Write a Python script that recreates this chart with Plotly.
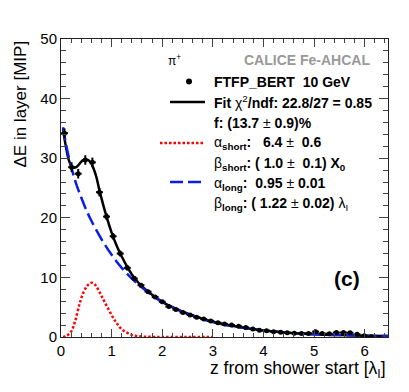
import plotly.graph_objects as go

# measured points (shower profile, FTFP_BERT 10 GeV pi+)
z_data = [0.07, 0.21, 0.34, 0.48, 0.62, 0.76, 0.90, 1.03, 1.17, 1.31, 1.45, 1.58, 1.72, 1.86,
          2.00, 2.13, 2.27, 2.41, 2.55, 2.68, 2.82, 2.96, 3.10, 3.23, 3.37, 3.51, 3.65, 3.79,
          3.92, 4.06, 4.20, 4.34, 4.47, 4.61, 4.75, 4.89, 5.03, 5.16, 5.30, 5.44, 5.58, 5.71,
          5.85, 5.99, 6.13]
e_data = [34.2, 28.5, 27.4, 29.7, 29.3, 24.3, 20.2, 16.9, 14.0, 11.6, 9.8, 8.7, 7.6, 6.7,
          5.9, 5.1, 4.6, 4.1, 3.7, 3.3, 3.0, 2.7, 2.4, 2.2, 2.0, 1.8, 1.6, 1.35,
          1.15, 1.05, 0.9, 0.8, 0.7, 0.65, 0.6, 0.6, 0.9, 0.6, 0.55, 0.75, 0.75, 0.7,
          0.45, 0.2, 0.05]
e_err = [0.8, 0.8, 0.8, 0.8, 0.8, 0.7, 0.6, 0.55, 0.5, 0.45, 0.4, 0.35, 0.3, 0.3,
         0.3, 0.25, 0.25, 0.25, 0.2, 0.2, 0.2, 0.2, 0.2, 0.2, 0.2, 0.15, 0.15, 0.15,
         0.15, 0.15, 0.15, 0.15, 0.15, 0.15, 0.15, 0.15, 0.15, 0.15, 0.15, 0.15, 0.15, 0.15,
         0.15, 0.15, 0.15]
half_bin = 0.068

# total fit
z_fit = [0.04, 0.1, 0.15, 0.2, 0.25, 0.3, 0.35, 0.4, 0.45, 0.5, 0.55, 0.6, 0.65, 0.7, 0.76,
         0.83, 0.9, 1.0, 1.1, 1.2, 1.3, 1.4, 1.5, 1.6, 1.8, 2.0, 2.25, 2.5, 2.75, 3.0, 3.5,
         4.0, 4.5, 5.0, 5.5, 6.0, 6.46]
e_fit = [34.8, 31.8, 29.8, 28.8, 28.4, 28.5, 28.9, 29.4, 29.7, 29.8, 29.6, 29.1, 28.1, 26.8, 24.6,
         22.3, 20.2, 17.5, 15.3, 13.5, 11.9, 10.5, 9.4, 8.5, 7.1, 5.9, 4.8, 3.9, 3.2, 2.55, 1.7,
         1.1, 0.73, 0.48, 0.32, 0.21, 0.15]

# long component
z_long = [0.04, 0.1, 0.2, 0.3, 0.4, 0.5, 0.6, 0.8, 1.0, 1.2, 1.4, 1.6, 1.8, 2.0, 2.5, 3.0,
          3.5, 4.0, 4.5, 5.0, 5.5, 6.0, 6.46]
e_long = [35.2, 32.3, 28.6, 25.7, 23.4, 21.3, 19.5, 16.4, 13.8, 11.6, 9.8, 8.3, 7.0, 5.9, 3.9, 2.5,
          1.67, 1.1, 0.73, 0.48, 0.32, 0.21, 0.15]

# short component
z_short = [0.04, 0.1, 0.2, 0.28, 0.375, 0.45, 0.51, 0.56, 0.61, 0.66, 0.705, 0.8, 0.935, 1.07,
           1.2, 1.4, 1.6, 1.8, 2.0, 2.5, 3.0]
e_short = [0.0, 0.15, 0.9, 2.7, 5.8, 7.6, 8.5, 8.95, 9.1, 8.9, 8.4, 6.9, 4.7, 2.7,
           1.3, 0.35, 0.08, 0.02, 0.0, 0.0, 0.0]

FONT = "Liberation Sans"
# plot frame in window pixels; the page body adds an 8px margin
L, R, T, B = 61, 388, 39, 337
W, H = 409, 392
OFF = 8


def xp(px):
    return (px - L) / (R - L)


def yp(py):
    return (B - py) / (B - T)


fig = go.Figure()
fig.add_trace(go.Scatter(x=z_fit, y=e_fit, mode="lines", line=dict(color="black", width=2.5, shape="spline"),
                         showlegend=False, hoverinfo="skip"))
fig.add_trace(go.Scatter(x=z_long, y=e_long, mode="lines",
                         line=dict(color="#0a1ee6", width=2.5, dash="13px,5px", shape="spline"),
                         showlegend=False, hoverinfo="skip"))
fig.add_trace(go.Scatter(x=z_short, y=e_short, mode="lines",
                         line=dict(color="#ff0000", width=2.5, dash="2.5px,2px", shape="spline"),
                         showlegend=False, hoverinfo="skip"))
fig.add_trace(go.Scatter(x=z_data, y=e_data, mode="markers",
                         marker=dict(color="black", size=5),
                         error_y=dict(type="data", array=e_err, color="black", thickness=2, width=0),
                         error_x=dict(type="constant", value=half_bin, color="black", thickness=2, width=0),
                         showlegend=False))

ann = []


def txt(px, py, s, size=14, color="black", anchor="left"):
    ann.append(dict(x=xp(px), y=yp(py), xref="paper", yref="paper", text=s, showarrow=False,
                    xanchor=anchor, yanchor="middle", font=dict(family=FONT, size=size, color=color)))


sp = "\u00a0"
txt(372, 60, "<b>CALICE Fe-AHCAL</b>", size=14, color="#999999", anchor="right")
txt(166, 60, "π<sup>+</sup>", size=12)
txt(212, 81.5, f"<b>FTFP_BERT{sp}{sp}10 GeV</b>")
txt(212, 102, "<b>Fit </b>χ<sup>2</sup><b>/ndf: 22.8/27 = 0.85</b>")
txt(212, 122.5, "<b>f: (13.7 </b>±<b> 0.9)%</b>")
txt(212, 143, f"α<sub><b>short</b></sub><b>:{sp}{sp} 6.4 </b>±<b>{sp}{sp}0.6</b>")
txt(212, 164, f"β<sub><b>short</b></sub><b>: ( 1.0 </b>±<b>{sp}{sp}0.1) X<sub>0</sub></b>")
txt(212, 184, f"α<sub><b>long</b></sub><b>:{sp}{sp}0.95 </b>±<b> 0.01</b>")
txt(212, 204, "β<sub><b>long</b></sub><b>: ( 1.22 </b>±<b> 0.02) </b>λ<sub>I</sub>")
txt(347, 278, "<b>(c)</b>", size=21, anchor="center")

# axis titles
ann.append(dict(x=1, y=yp(369), xref="paper", yref="paper", text="z from shower start [λ<sub>I</sub>]",
                showarrow=False, xanchor="right", yanchor="middle", font=dict(family=FONT, size=17.5, color="black")))
ann.append(dict(x=xp(20), y=1, xref="paper", yref="paper", text="ΔE in layer [MIP]", textangle=-90,
                showarrow=False, xanchor="center", yanchor="top", font=dict(family=FONT, size=17, color="black")))

shapes = [
    dict(type="circle", xref="paper", yref="paper", x0=xp(186), x1=xp(192), y0=yp(84.5), y1=yp(78.5),
         fillcolor="black", line=dict(width=0)),
    dict(type="line", xref="paper", yref="paper", x0=xp(170), x1=xp(205), y0=yp(102), y1=yp(102),
         line=dict(color="black", width=2.5)),
    dict(type="line", xref="paper", yref="paper", x0=xp(160), x1=xp(203), y0=yp(143), y1=yp(143),
         line=dict(color="#ff0000", width=2.5, dash="2.5px,2px")),
    dict(type="line", xref="paper", yref="paper", x0=xp(170), x1=xp(203), y0=yp(182), y1=yp(182),
         line=dict(color="#0a1ee6", width=2.5, dash="13px,5px")),
]

axis_common = dict(showline=True, linecolor="#222222", linewidth=1, mirror="ticks", ticks="inside",
                   tickcolor="#444444", showgrid=False, zeroline=False,
                   tickfont=dict(family=FONT, size=15, color="black"))

fig.update_layout(
    width=W - OFF, height=H - OFF,
    margin=dict(l=L - OFF, r=W - R, t=T - OFF, b=H - B),
    paper_bgcolor="white", plot_bgcolor="white",
    font=dict(family=FONT),
    annotations=ann, shapes=shapes,
    xaxis=dict(range=[0, 6.46], dtick=1, ticklen=8,
               minor=dict(dtick=0.2, ticks="inside", ticklen=4, tickcolor="#444444"), **axis_common),
    yaxis=dict(range=[0, 50], dtick=10, ticklen=9,
               minor=dict(dtick=2, ticks="inside", ticklen=5, tickcolor="#444444"), **axis_common),
)

fig.write_html("out.html")
